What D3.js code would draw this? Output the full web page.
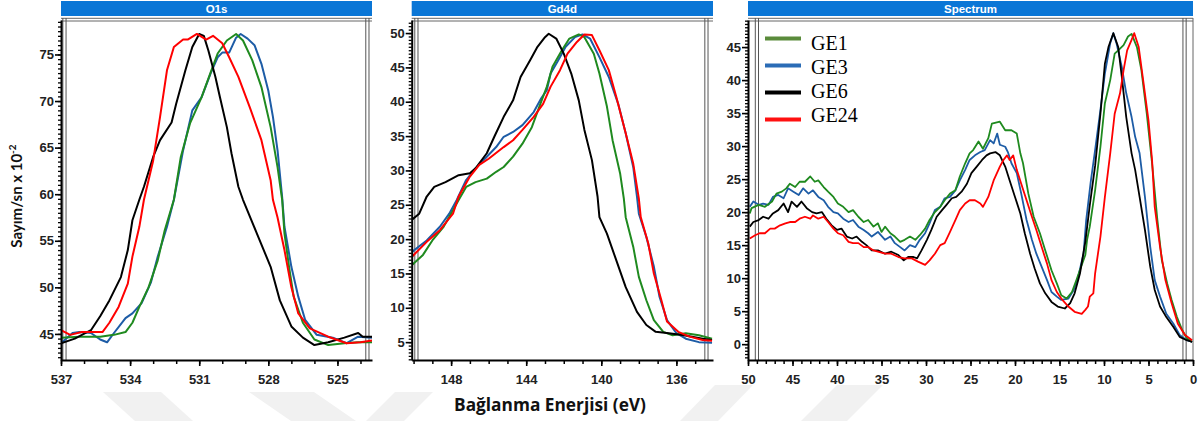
<!DOCTYPE html>
<html>
<head>
<meta charset="utf-8">
<script src="https://cdn.jsdelivr.net/npm/d3@7"></script>
<style>
  body { margin: 0; background: #fff; }
</style>
</head>
<body>
<svg id="chart" width="1200" height="421" font-family="'Liberation Sans', Arial, sans-serif"></svg>
<script>
// series names, legend order
var seriesNames = ["GE1", "GE3", "GE6", "GE24"];

// O1s region (binding energy eV, counts/s x 10^-2)
var o1sGE1 = [[537,44.6],[536.2,44.7],[535.3,44.7],[534.7,44.9],[534.2,45.2],[533.9,46.2],[533.6,47.9],[533.2,50.0],[532.8,52.9],[532.5,56.1],[532.1,59.4],[531.8,64.0],[531.4,67.6],[530.9,70.4],[530.5,73.1],[530.2,75.1],[529.8,76.5],[529.4,77.2],[529.1,76.5],[528.7,74.4],[528.3,71.5],[527.9,67.2],[527.6,62.9],[527.4,59.4],[527.3,55.8],[527.1,52.2],[526.9,49.0],[526.5,46.2],[526.0,44.4],[525.4,43.8],[524.7,44.0],[524.1,44.1],[523.5,44.1]];
var o1sGE3 = [[537,44.0],[536.5,45.1],[536.2,45.2],[535.7,45.1],[535.3,44.4],[535.0,44.1],[534.7,45.1],[534.2,46.7],[533.9,47.2],[533.5,48.3],[533.1,50.5],[532.8,53.3],[532.4,56.5],[532.1,59.4],[531.7,64.7],[531.3,69.0],[530.9,70.4],[530.5,73.0],[530.2,74.7],[530.0,75.2],[529.7,75.2],[529.4,76.8],[529.2,77.2],[528.9,76.7],[528.6,76.0],[528.3,74.0],[528.0,71.1],[527.8,68.3],[527.6,64.7],[527.4,59.7],[527.3,56.5],[527.0,52.2],[526.7,49.0],[526.4,46.5],[525.9,44.9],[525.2,44.6],[524.6,44.0],[524.1,44.7],[523.5,44.6]];
var o1sGE6 = [[537,44.0],[536.4,44.5],[535.7,45.4],[535.3,46.9],[534.9,48.6],[534.4,51.1],[534.1,54.0],[533.9,57.2],[533.6,59.4],[533.4,60.8],[533.0,64.0],[532.7,65.8],[532.2,67.7],[532.0,69.7],[531.6,73.3],[531.3,75.8],[531.0,77.2],[530.8,77.0],[530.6,75.4],[530.3,72.6],[530.1,70.4],[529.8,67.2],[529.6,64.4],[529.3,60.8],[529.1,59.4],[528.5,55.8],[527.9,52.2],[527.5,48.6],[527.0,45.8],[526.5,44.6],[526.0,43.8],[525.4,44.1],[524.7,44.6],[524.1,45.1],[523.9,44.7],[523.5,44.7]];
var o1sGE24 = [[537,45.4],[536.6,44.9],[536.1,45.2],[535.2,45.2],[534.9,46.2],[534.5,47.9],[534.1,50.4],[533.9,53.3],[533.6,56.5],[533.4,59.4],[533.0,63.6],[532.7,68.3],[532.4,73.3],[532.1,75.8],[531.7,76.6],[531.5,76.6],[531.1,77.2],[530.7,76.6],[530.4,77.0],[530.0,76.2],[529.7,74.7],[529.3,72.6],[528.8,69.3],[528.3,65.8],[527.9,61.5],[527.8,59.4],[527.6,57.5],[527.3,54.0],[527.0,50.0],[526.7,47.2],[526.2,45.6],[525.4,44.7],[524.6,44.0],[524.0,44.1],[523.5,44.3]];

// Gd4d region
var gdGE1 = [[150.1,16.2],[149.5,17.7],[149.0,19.8],[148.4,21.8],[147.9,24.2],[147.6,25.7],[147.2,27.6],[146.7,28.3],[146.1,28.8],[145.6,29.8],[145.2,30.5],[144.7,32.0],[144.2,33.9],[143.7,36.3],[143.3,39.3],[142.9,42.2],[142.6,45.1],[142.1,47.5],[141.7,49.2],[141.2,49.8],[140.9,49.4],[140.4,47.0],[140.1,44.1],[139.7,39.3],[139.4,34.4],[139.0,29.6],[138.8,25.9],[138.7,23.2],[138.3,18.9],[138.0,14.5],[137.6,11.1],[137.2,8.2],[136.7,6.5],[136.2,6.0],[135.5,6.3],[134.8,6.0],[134.1,5.5]];
var gdGE3 = [[150.1,18.1],[149.3,19.8],[148.6,21.8],[148.1,23.7],[147.7,25.7],[147.2,28.6],[146.7,30.3],[146.1,32.0],[145.6,33.4],[145.2,34.9],[144.7,35.6],[144.2,36.6],[143.6,38.5],[143.2,40.5],[142.9,41.7],[142.7,44.1],[142.3,46.0],[141.9,48.0],[141.4,49.4],[141.0,49.8],[140.6,49.2],[140.1,46.5],[139.6,43.6],[139.1,39.7],[138.7,35.4],[138.3,30.5],[138.1,26.2],[138.0,23.7],[137.6,20.3],[137.2,16.0],[136.9,11.6],[136.5,8.2],[136.0,6.3],[135.5,5.5],[134.8,5.0],[134.1,4.9]];
var gdGE6 = [[150.1,22.8],[149.7,23.7],[149.3,26.2],[148.9,27.6],[148.3,28.3],[147.6,29.3],[147.0,29.6],[146.7,30.3],[146.1,32.5],[145.7,34.9],[145.2,37.8],[144.7,40.2],[144.3,43.6],[143.8,46.0],[143.4,48.0],[143.0,49.4],[142.8,49.9],[142.4,49.2],[142.0,47.0],[141.6,44.1],[141.2,40.2],[140.9,35.9],[140.5,31.5],[140.2,26.2],[140.1,23.2],[139.7,20.8],[139.2,16.9],[138.7,13.0],[138.1,9.4],[137.6,7.5],[137.1,6.5],[136.4,6.3],[135.6,6.0],[134.6,5.5],[134.1,5.3]];
var gdGE24 = [[150.1,17.4],[149.3,19.6],[148.6,21.3],[147.9,23.7],[147.6,26.2],[147.0,29.1],[146.5,30.8],[146.0,31.7],[145.2,33.4],[144.7,34.4],[144.2,35.9],[143.6,37.8],[143.1,39.7],[142.7,42.2],[142.2,44.6],[141.8,47.0],[141.3,48.7],[140.9,49.8],[140.5,49.7],[140.1,47.5],[139.6,44.6],[139.2,40.7],[138.7,35.4],[138.3,31.0],[138.0,25.9],[137.9,23.2],[137.5,19.4],[137.2,15.0],[136.8,11.1],[136.5,8.0],[135.9,6.5],[135.3,5.8],[134.6,5.3],[134.1,5.2]];

// full spectrum (valence band)
var specGE1 = [[49.8,19.8],[49.6,20.6],[48.8,21.1],[48.1,20.8],[47.3,21.6],[46.8,22.8],[46.2,23.1],[45.7,23.6],[45.3,24.3],[44.7,23.8],[44.2,24.6],[43.6,24.6],[43.0,25.4],[42.5,24.6],[42.1,24.8],[41.5,23.8],[41.0,23.1],[40.4,22.3],[39.9,21.3],[39.3,20.8],[38.7,20.0],[38.2,20.3],[37.6,19.3],[37.0,18.5],[36.5,18.8],[35.9,17.8],[35.4,18.3],[35.0,17.0],[34.6,17.8],[34.0,16.8],[33.5,16.3],[32.9,15.5],[32.4,15.8],[31.8,16.3],[31.2,15.8],[30.7,16.5],[30.1,17.5],[29.6,18.8],[29.0,20.0],[28.4,20.8],[27.9,21.8],[27.3,22.8],[26.7,23.3],[26.2,25.4],[25.6,27.4],[25.1,28.9],[24.7,29.4],[24.1,30.7],[23.6,29.6],[23.0,31.2],[22.6,33.4],[21.7,33.7],[21.1,32.4],[20.4,32.4],[19.8,31.9],[19.4,28.9],[19.1,27.4],[18.5,22.8],[17.9,19.3],[17.2,16.8],[16.6,14.2],[15.9,11.2],[15.3,9.2],[14.8,7.4],[14.2,6.9],[13.6,7.9],[13.1,9.7],[12.5,12.0],[12.1,13.5],[11.9,15.8],[11.6,17.8],[11.0,23.3],[10.4,29.9],[9.9,36.5],[9.3,40.0],[8.8,44.0],[8.4,44.5],[7.8,45.3],[7.3,46.6],[6.9,47.0],[6.3,45.0],[5.8,41.5],[5.2,35.0],[4.6,27.4],[4.0,18.8],[3.5,12.7],[2.9,9.2],[2.4,6.7],[1.8,4.1],[1.2,2.1],[0.7,0.9],[0.1,0.35]];
var specGE3 = [[49.8,20.8],[49.4,21.6],[48.8,21.1],[48.3,21.3],[47.7,21.1],[47.2,22.3],[46.6,22.6],[46.0,22.1],[45.5,23.6],[44.9,23.1],[44.3,22.6],[43.8,23.6],[43.2,22.8],[42.7,23.3],[42.1,22.3],[41.5,21.8],[41.0,20.8],[40.4,20.0],[39.9,19.8],[39.3,19.0],[38.7,18.5],[38.2,18.8],[37.6,17.8],[37.0,17.3],[36.5,16.8],[36.1,16.3],[35.4,17.0],[34.6,15.8],[34.0,16.3],[33.5,15.3],[32.9,14.7],[32.4,14.2],[31.8,15.0],[31.2,14.7],[30.7,15.8],[30.1,16.8],[29.6,18.3],[29.0,20.3],[28.4,20.8],[27.9,22.1],[27.3,22.3],[26.7,23.3],[26.2,24.8],[25.6,26.4],[25.1,27.9],[24.5,28.6],[23.9,29.1],[23.4,29.4],[22.8,30.9],[22.4,30.4],[22.0,31.9],[21.7,30.2],[21.1,29.9],[20.8,29.1],[20.4,27.4],[19.8,25.9],[19.3,22.8],[18.7,18.8],[18.1,15.8],[17.6,13.7],[17.0,11.7],[16.4,9.7],[15.9,7.9],[15.3,7.2],[14.8,6.7],[14.0,6.9],[13.4,8.2],[12.9,10.2],[12.3,13.7],[12.0,18.8],[11.5,24.5],[11.0,29.4],[10.4,35.5],[9.9,41.0],[9.3,45.6],[8.95,47.1],[8.6,45.6],[8.0,42.0],[7.5,38.0],[6.9,34.4],[6.5,31.4],[6.0,28.9],[5.4,22.3],[4.8,14.7],[4.3,9.7],[3.7,7.2],[3.0,4.6],[2.2,3.1],[1.5,1.4],[0.7,0.6],[0.1,0.35]];
var specGE6 = [[49.8,17.8],[49.4,18.5],[48.8,18.8],[48.3,19.3],[47.7,19.0],[47.2,19.8],[46.6,20.3],[46.0,21.3],[45.5,20.0],[45.1,21.6],[44.5,20.8],[44.0,21.6],[43.4,20.6],[42.8,20.0],[42.3,19.8],[41.7,20.0],[41.2,19.0],[40.6,18.0],[40.0,17.3],[39.5,17.5],[38.9,16.3],[38.3,16.0],[37.8,16.3],[37.2,15.5],[36.7,15.0],[36.1,14.2],[35.4,14.2],[34.6,13.7],[33.9,14.0],[33.1,13.5],[32.5,12.7],[32.0,13.2],[31.4,13.2],[31.0,13.0],[30.5,14.2],[29.9,15.8],[29.4,17.3],[28.8,19.3],[28.2,20.3],[27.7,21.1],[27.1,22.1],[26.6,22.3],[26.0,23.1],[25.4,24.3],[24.9,25.9],[24.3,26.9],[23.7,27.9],[23.2,28.6],[22.8,28.9],[22.2,29.1],[21.7,28.6],[21.1,26.9],[20.6,24.8],[20.0,22.3],[19.4,19.8],[18.9,16.8],[18.3,13.7],[17.8,11.5],[17.2,9.2],[16.6,7.7],[15.9,6.4],[15.2,5.7],[14.4,5.4],[13.8,6.2],[13.3,7.7],[12.7,10.7],[12.1,15.5],[11.6,21.0],[11.0,27.0],[10.4,34.9],[9.9,42.5],[9.5,45.0],[8.95,47.1],[8.4,45.0],[8.0,40.5],[7.5,34.4],[6.9,28.9],[6.5,26.4],[6.0,22.3],[5.4,17.3],[4.8,11.7],[4.3,8.2],[3.7,5.7],[3.0,4.1],[2.2,2.6],[1.5,1.1],[0.7,0.6],[0.1,0.35]];
var specGE24 = [[49.8,16.0],[49.2,16.5],[48.7,16.8],[48.1,16.8],[47.5,17.5],[47.0,17.5],[46.4,18.0],[45.8,18.3],[45.3,18.5],[44.7,18.5],[44.2,19.0],[43.6,19.3],[43.0,19.0],[42.7,19.5],[42.1,19.0],[41.5,19.3],[41.0,18.5],[40.4,17.5],[39.9,16.8],[39.3,16.5],[38.7,15.5],[38.2,15.3],[37.6,15.3],[37.0,14.7],[36.5,14.7],[35.9,14.2],[35.4,14.0],[34.6,13.7],[33.9,13.7],[33.1,13.2],[32.4,13.0],[31.6,13.0],[30.9,12.5],[30.1,12.0],[29.6,12.7],[29.0,13.7],[28.4,15.0],[27.9,15.3],[27.3,17.0],[26.7,18.8],[26.2,20.3],[25.6,21.3],[25.1,21.8],[24.5,21.8],[23.9,21.3],[23.6,20.8],[23.0,22.3],[22.4,24.8],[21.7,26.9],[21.3,27.9],[20.9,28.6],[20.6,27.9],[20.2,28.6],[19.8,26.4],[19.3,24.3],[18.7,21.8],[18.1,19.3],[17.6,17.3],[17.0,14.7],[16.4,12.2],[15.9,9.7],[15.3,7.9],[14.8,6.9],[14.0,5.7],[13.3,4.9],[12.5,4.6],[12.1,5.2],[11.8,5.7],[11.6,7.2],[11.2,7.7],[11.0,10.7],[10.4,16.3],[9.9,22.3],[9.3,28.9],[8.8,34.9],[8.2,38.0],[7.8,41.5],[7.4,44.5],[6.9,46.1],[6.6,47.1],[6.1,45.0],[5.6,40.0],[5.0,33.9],[4.6,27.9],[4.3,20.8],[3.7,14.7],[3.1,9.7],[2.4,6.2],[1.7,3.1],[0.9,1.4],[0.1,0.6]];

// tick labels
var o1sXTicks = [537, 534, 531, 528, 525];
var o1sYTicks = [45, 50, 55, 60, 65, 70, 75];
var gdXTicks = [148, 144, 140, 136];
var gdYTicks = [5, 10, 15, 20, 25, 30, 35, 40, 45, 50];
var specXTicks = [50, 45, 40, 35, 30, 25, 20, 15, 10, 5, 0];
var specYTicks = [0, 5, 10, 15, 20, 25, 30, 35, 40, 45];

var lineColor = { GE1: "#1f8a1f", GE3: "#1d5ca6", GE6: "#000000", GE24: "#ff0000" };
var legendColor = { GE1: "#5a8b3b", GE3: "#2b6cb6", GE6: "#000000", GE24: "#ff1010" };
var drawOrder = ["GE3", "GE1", "GE6", "GE24"];

var panels = [
  { title: "O1s", left: 61, right: 372, xDomain: [537, 523.5], yDomain: [42.2, 78.7],
    xTicks: o1sXTicks, yTicks: o1sYTicks, markers: [536.85, 523.7], frameRight: false,
    data: { GE1: o1sGE1, GE3: o1sGE3, GE6: o1sGE6, GE24: o1sGE24 } },
  { title: "Gd4d", left: 411.7, right: 713, xDomain: [150.1, 134.05], yDomain: [2.4, 51.9],
    xTicks: gdXTicks, yTicks: gdYTicks, markers: [149.85, 134.4], frameRight: false,
    data: { GE1: gdGE1, GE3: gdGE3, GE6: gdGE6, GE24: gdGE24 } },
  { title: "Spectrum", left: 748, right: 1193, xDomain: [50, 0], yDomain: [-2.4, 49.1],
    xTicks: specXTicks, yTicks: specYTicks, markers: [49.0, 0.95], frameRight: true,
    data: { GE1: specGE1, GE3: specGE3, GE6: specGE6, GE24: specGE24 }, legend: true }
];

var plotTop = 20, plotBottom = 360;
var svg = d3.select("#chart");

// faint watermark stripes behind the figure
var stripes = [
  [[103, 392], [161, 392], [193, 421], [135, 421]],
  [[249, 392], [314, 392], [356, 421], [291, 421]],
  [[395, 392], [433, 392], [404, 421], [366, 421]],
  [[715, 385], [753, 385], [718, 421], [680, 421]],
  [[837, 385], [883, 385], [847, 421], [801, 421]]
];
svg.append("g").selectAll("polygon").data(stripes).join("polygon")
  .attr("points", function (d) { return d.map(function (p) { return p.join(","); }).join(" "); })
  .attr("fill", "#f1f1f1");

panels.forEach(function (p, pi) {
  var x = d3.scaleLinear().domain(p.xDomain).range([p.left, p.right]);
  var y = d3.scaleLinear().domain(p.yDomain).range([plotBottom, plotTop]);
  var g = svg.append("g");

  // blue title bar
  g.append("rect").attr("x", p.left).attr("y", 1).attr("width", p.right - p.left).attr("height", 15)
    .attr("fill", "#0a76d6");
  g.append("text").attr("x", (p.left + p.right) / 2).attr("y", 12.5).attr("text-anchor", "middle")
    .attr("fill", "#fff").attr("font-weight", "bold").attr("font-size", 11.5).text(p.title);

  // top double frame line
  [18.3, 21].forEach(function (yy) {
    g.append("line").attr("x1", p.left).attr("x2", p.right).attr("y1", yy).attr("y2", yy)
      .attr("stroke", "#666").attr("stroke-width", 1);
  });
  if (p.frameRight) {
    g.append("line").attr("x1", p.right).attr("x2", p.right).attr("y1", 18).attr("y2", plotBottom)
      .attr("stroke", "#666").attr("stroke-width", 1);
  }
  // region markers (double lines)
  p.markers.forEach(function (m) {
    [-1.6, 1.6].forEach(function (off) {
      g.append("line").attr("x1", x(m) + off).attr("x2", x(m) + off).attr("y1", 18).attr("y2", plotBottom)
        .attr("stroke", "#555").attr("stroke-width", 1);
    });
  });

  // curves
  var clipId = "clip" + pi;
  svg.append("clipPath").attr("id", clipId).append("rect")
    .attr("x", p.left).attr("y", plotTop).attr("width", p.right - p.left).attr("height", plotBottom - plotTop);
  var line = d3.line().x(function (d) { return x(d[0]); }).y(function (d) { return y(d[1]); });
  drawOrder.forEach(function (name) {
    g.append("path").datum(p.data[name]).attr("clip-path", "url(#" + clipId + ")")
      .attr("d", line).attr("fill", "none").attr("stroke", lineColor[name])
      .attr("stroke-width", pi === 2 ? 1.8 : 2).attr("stroke-linejoin", "round");
  });

  // minor ticks
  var xMinor = d3.range(Math.ceil(Math.min.apply(null, p.xDomain)), Math.max.apply(null, p.xDomain) + 0.001, 1);
  var yMinor = d3.range(Math.ceil(p.yDomain[0] * 2) / 2, p.yDomain[1], 0.5);
  g.append("g").attr("transform", "translate(0," + plotBottom + ")")
    .call(d3.axisBottom(x).tickValues(xMinor).tickSize(4).tickSizeOuter(0).tickFormat(""))
    .call(function (a) { a.select(".domain").remove(); a.selectAll("line").attr("stroke-width", 1.5); });
  g.append("g").attr("transform", "translate(" + p.left + ",0)")
    .call(d3.axisLeft(y).tickValues(yMinor).tickSize(3).tickSizeOuter(0).tickFormat(""))
    .call(function (a) { a.select(".domain").remove(); a.selectAll("line").attr("stroke-width", 1.3); });

  // major axes
  var xa = g.append("g").attr("transform", "translate(0," + plotBottom + ")")
    .call(d3.axisBottom(x).tickValues(p.xTicks).tickSize(6).tickSizeOuter(0).tickPadding(9).tickFormat(d3.format("d")));
  var ya = g.append("g").attr("transform", "translate(" + p.left + ",0)")
    .call(d3.axisLeft(y).tickValues(p.yTicks).tickSize(6).tickSizeOuter(0).tickPadding(1).tickFormat(d3.format("d")));
  [xa, ya].forEach(function (a) {
    a.select(".domain").attr("stroke", "#000").attr("stroke-width", 2);
    a.selectAll(".tick line").attr("stroke-width", 1.6);
    a.selectAll("text").attr("font-family", "'Liberation Sans', Arial, sans-serif")
      .attr("font-weight", "bold").attr("font-size", 13).attr("fill", "#222");
  });

  if (p.legend) {
    var lg = g.append("g");
    seriesNames.forEach(function (name, i) {
      lg.append("line").attr("x1", 765).attr("x2", 801).attr("y1", 38.5 + i * 27).attr("y2", 38.5 + i * 27)
        .attr("stroke", legendColor[name]).attr("stroke-width", 4);
      lg.append("text").attr("x", 811).attr("y", 49.5 + i * 24.1)
        .attr("font-family", "'Liberation Serif', 'Times New Roman', serif")
        .attr("font-size", 20).attr("fill", "#000").text(name);
    });
  }
});

// axis titles
svg.append("text").attr("transform", "translate(22,196) rotate(-90)").attr("text-anchor", "middle")
  .attr("font-family", "Lato, 'Open Sans', sans-serif").attr("font-weight", "bold").attr("font-size", 15)
  .attr("fill", "#111")
  .text("Sayım/sn x 10")
  .append("tspan").attr("dy", -6).attr("font-size", 10).text("-2");

svg.append("text").attr("x", 550).attr("y", 411).attr("text-anchor", "middle")
  .attr("font-family", "'Open Sans', Lato, sans-serif").attr("font-weight", "bold").attr("font-size", 17.3)
  .attr("fill", "#111").text("Bağlanma Enerjisi (eV)");
</script>
</body>
</html>
